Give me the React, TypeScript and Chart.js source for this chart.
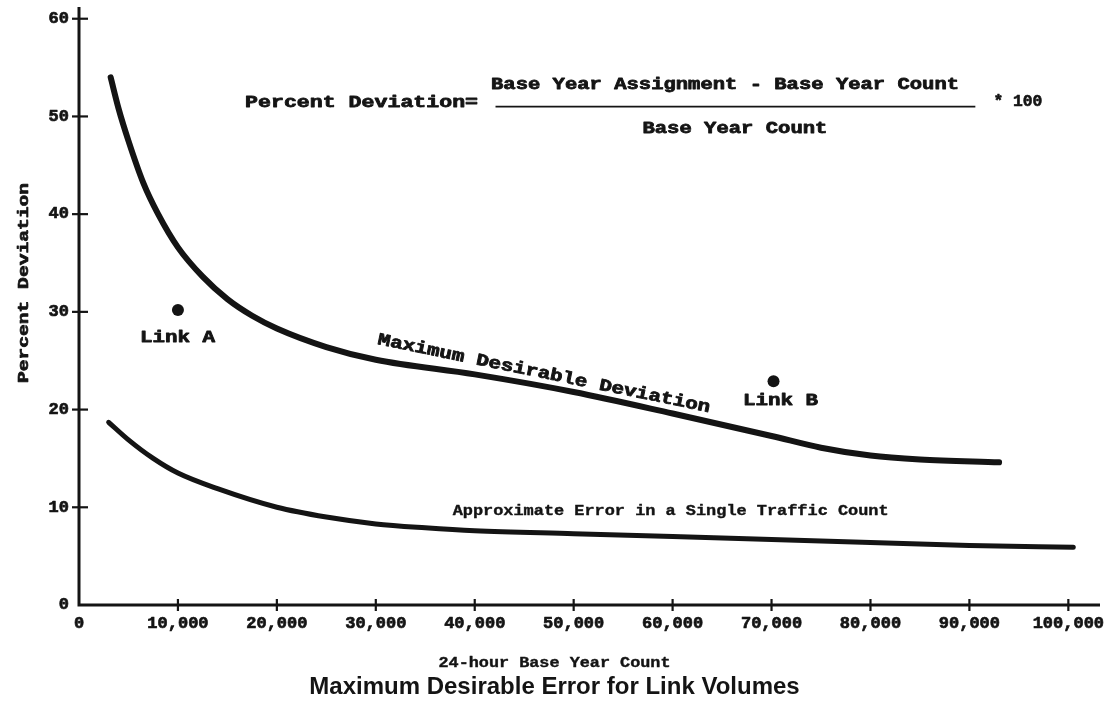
import React, { useEffect, useRef } from "react";
import { Chart, registerables } from "chart.js";

Chart.register(...registerables);

// ---- data ----
const upperX = [3200, 4000, 5000, 6500, 8000, 10000, 12500, 15000, 17500, 20000, 25000, 30000, 40000, 50000, 60000, 70000, 75000, 80000, 85000, 93000];
const upperY = [54.0, 50.8, 47.5, 43.2, 40.0, 36.6, 33.6, 31.3, 29.6, 28.3, 26.4, 25.1, 23.6, 21.8, 19.6, 17.3, 16.1, 15.3, 14.9, 14.6];

const lowerX = [3000, 5000, 7500, 10000, 14000, 20000, 25000, 30000, 35000, 40000, 50000, 60000, 70000, 80000, 90000, 100500];
const lowerY = [18.7, 16.9, 15.0, 13.5, 11.9, 10.0, 9.0, 8.3, 7.9, 7.6, 7.3, 7.0, 6.7, 6.4, 6.1, 5.9];

const linkNames = ["Link A", "Link B"];
const linkX = [10000, 70200];
const linkY = [30.2, 22.9];

const xTicks = [0, 10000, 20000, 30000, 40000, 50000, 60000, 70000, 80000, 90000, 100000];
const yTicks = [0, 10, 20, 30, 40, 50, 60];

const xTitle = "24-hour Base Year Count";
const yTitle = "Percent Deviation";
const chartTitle = "Maximum Desirable Error for Link Volumes";

const formulaLeft = "Percent Deviation=";
const formulaTop = "Base Year Assignment - Base Year Count";
const formulaBottom = "Base Year Count";
const formulaRight = "* 100";
const upperCurveName = "Maximum Desirable Deviation";
const lowerCurveName = "Approximate Error in a Single Traffic Count";

// ---- annotation placement (data coordinates) & styles ----
const MONO = "'Liberation Mono', 'DejaVu Sans Mono', monospace";
const INK = "#141414";

type Note = { text: string; x: number; y: number; w: number; size: number; angle?: number; bold?: number };
const notes: Note[] = [
  { text: linkNames[0], x: 9950, y: 27.4, w: 75, size: 17, bold: 0.8 },
  { text: linkNames[1], x: 70900, y: 20.9, w: 75, size: 17, bold: 0.8 },
  { text: upperCurveName, x: 47000, y: 23.65, w: 339, size: 17, angle: 11.6, bold: 0.8 },
  { text: lowerCurveName, x: 59800, y: 9.6, w: 436, size: 15, bold: 0.4 },
  { text: formulaLeft, x: 28560, y: 51.4, w: 233, size: 17, bold: 0.8 },
  { text: formulaTop, x: 65300, y: 53.2, w: 468, size: 17, bold: 0.8 },
  { text: formulaBottom, x: 66300, y: 48.7, w: 185, size: 17, bold: 0.8 },
  { text: formulaRight, x: 94900, y: 51.5, w: 49, size: 16, bold: 0.6 },
];
const fractionLine = { x1: 42100, x2: 90600, y: 51.0 };

function fitText(
  ctx: CanvasRenderingContext2D,
  text: string,
  cx: number,
  cy: number,
  font: string,
  width: number | null,
  angleDeg = 0,
  bold = 0,
  align: CanvasTextAlign = "center"
) {
  ctx.save();
  ctx.font = font;
  ctx.textAlign = align;
  ctx.textBaseline = "middle";
  const w = ctx.measureText(text).width;
  ctx.translate(cx, cy);
  ctx.rotate((angleDeg * Math.PI) / 180);
  if (width) ctx.scale(width / w, 1);
  ctx.fillStyle = INK;
  ctx.fillText(text, 0, 0);
  if (bold > 0) {
    ctx.strokeStyle = INK;
    ctx.lineWidth = bold;
    ctx.lineJoin = "round";
    ctx.strokeText(text, 0, 0);
  }
  ctx.restore();
}

const drawPlugin = {
  id: "drawExtras",
  afterDraw(chart: any) {
    const ctx: CanvasRenderingContext2D = chart.ctx;
    const xs = chart.scales.x;
    const ys = chart.scales.y;
    const a = chart.chartArea;
    ctx.save();
    // axes
    ctx.strokeStyle = INK;
    ctx.lineWidth = 3;
    ctx.lineCap = "butt";
    ctx.beginPath();
    ctx.moveTo(a.left, a.top);
    ctx.lineTo(a.left, a.bottom);
    ctx.lineTo(a.right, a.bottom);
    ctx.stroke();
    // tick crosses
    ctx.lineWidth = 2.2;
    yTicks.forEach((v) => {
      if (v === 0) return;
      const py = ys.getPixelForValue(v);
      ctx.beginPath();
      ctx.moveTo(a.left - 7, py);
      ctx.lineTo(a.left + 9, py);
      ctx.stroke();
    });
    xTicks.forEach((v) => {
      if (v === 0) return;
      const px = xs.getPixelForValue(v);
      ctx.beginPath();
      ctx.moveTo(px, a.bottom - 6);
      ctx.lineTo(px, a.bottom + 6);
      ctx.stroke();
    });
    // fraction bar
    ctx.lineWidth = 1.6;
    ctx.beginPath();
    const fy = ys.getPixelForValue(fractionLine.y);
    ctx.moveTo(xs.getPixelForValue(fractionLine.x1), fy);
    ctx.lineTo(xs.getPixelForValue(fractionLine.x2), fy);
    ctx.stroke();
    ctx.restore();

    // tick labels
    const tickFont = `bold 17px ${MONO}`;
    yTicks.forEach((v) => {
      fitText(ctx, String(v), a.left - 10, ys.getPixelForValue(v), tickFont, null, 0, 0.7, "right");
    });
    xTicks.forEach((v) => {
      fitText(ctx, v.toLocaleString("en-US"), xs.getPixelForValue(v), a.bottom + 19, tickFont, null, 0, 0.7, "center");
    });

    // annotations
    notes.forEach((n) => {
      fitText(ctx, n.text, xs.getPixelForValue(n.x), ys.getPixelForValue(n.y), `bold ${n.size}px ${MONO}`, n.w, n.angle || 0, n.bold || 0);
    });

    // axis titles and chart title
    const W = chart.width;
    fitText(ctx, xTitle, W / 2 - 1, 663, `bold 15px ${MONO}`, 232, 0, 0.4);
    fitText(ctx, yTitle, 24, 283, `bold 14px ${MONO}`, 200, -90, 0.7);
    ctx.save();
    ctx.font = "bold 24px 'Liberation Sans', Arial, sans-serif";
    ctx.textAlign = "center";
    ctx.textBaseline = "middle";
    ctx.fillStyle = INK;
    ctx.fillText(chartTitle, W / 2 - 1, 687);
    ctx.restore();
  },
};

export default function App() {
  const ref = useRef<HTMLCanvasElement | null>(null);
  useEffect(() => {
    if (!ref.current) return;
    const chart = new Chart(ref.current, {
      type: "line",
      data: {
        datasets: [
          {
            label: upperCurveName,
            data: upperX.map((x, i) => ({ x, y: upperY[i] })),
            borderColor: INK,
            borderWidth: 6,
            pointRadius: 0,
            cubicInterpolationMode: "monotone",
            borderCapStyle: "round",
            fill: false,
          },
          {
            label: lowerCurveName,
            data: lowerX.map((x, i) => ({ x, y: lowerY[i] })),
            borderColor: INK,
            borderWidth: 5,
            pointRadius: 0,
            cubicInterpolationMode: "monotone",
            borderCapStyle: "round",
            fill: false,
          },
          {
            label: "Links",
            data: linkX.map((x, i) => ({ x, y: linkY[i] })),
            showLine: false,
            pointRadius: 6,
            pointBackgroundColor: INK,
            pointBorderWidth: 0,
            borderColor: INK,
          },
        ],
      } as any,
      options: {
        animation: false,
        responsive: false,
        devicePixelRatio: 1,
        layout: { padding: { top: 7, right: 11, left: 0, bottom: 0 } },
        plugins: { legend: { display: false }, tooltip: { enabled: false }, title: { display: false } },
        scales: {
          x: {
            type: "linear",
            min: 0,
            max: 103200,
            afterBuildTicks: (s: any) => {
              s.ticks = xTicks.map((v) => ({ value: v }));
            },
            afterFit: (s: any) => {
              s.height = 99;
              s.paddingLeft = 0;
              s.paddingRight = 0;
            },
            grid: { display: false },
            border: { display: false },
            ticks: { display: false },
          },
          y: {
            type: "linear",
            min: 0,
            max: 61.2,
            afterBuildTicks: (s: any) => {
              s.ticks = yTicks.map((v) => ({ value: v }));
            },
            afterFit: (s: any) => {
              s.width = 79;
              s.paddingTop = 0;
              s.paddingBottom = 0;
            },
            grid: { display: false },
            border: { display: false },
            ticks: { display: false },
          },
        },
      } as any,
      plugins: [drawPlugin],
    });
    return () => chart.destroy();
  }, []);

  return (
    <div style={{ position: "fixed", left: 0, top: 0, width: 1111, height: 704, background: "#fff" }}>
      <canvas ref={ref} width={1111} height={704} style={{ display: "block" }} />
    </div>
  );
}
